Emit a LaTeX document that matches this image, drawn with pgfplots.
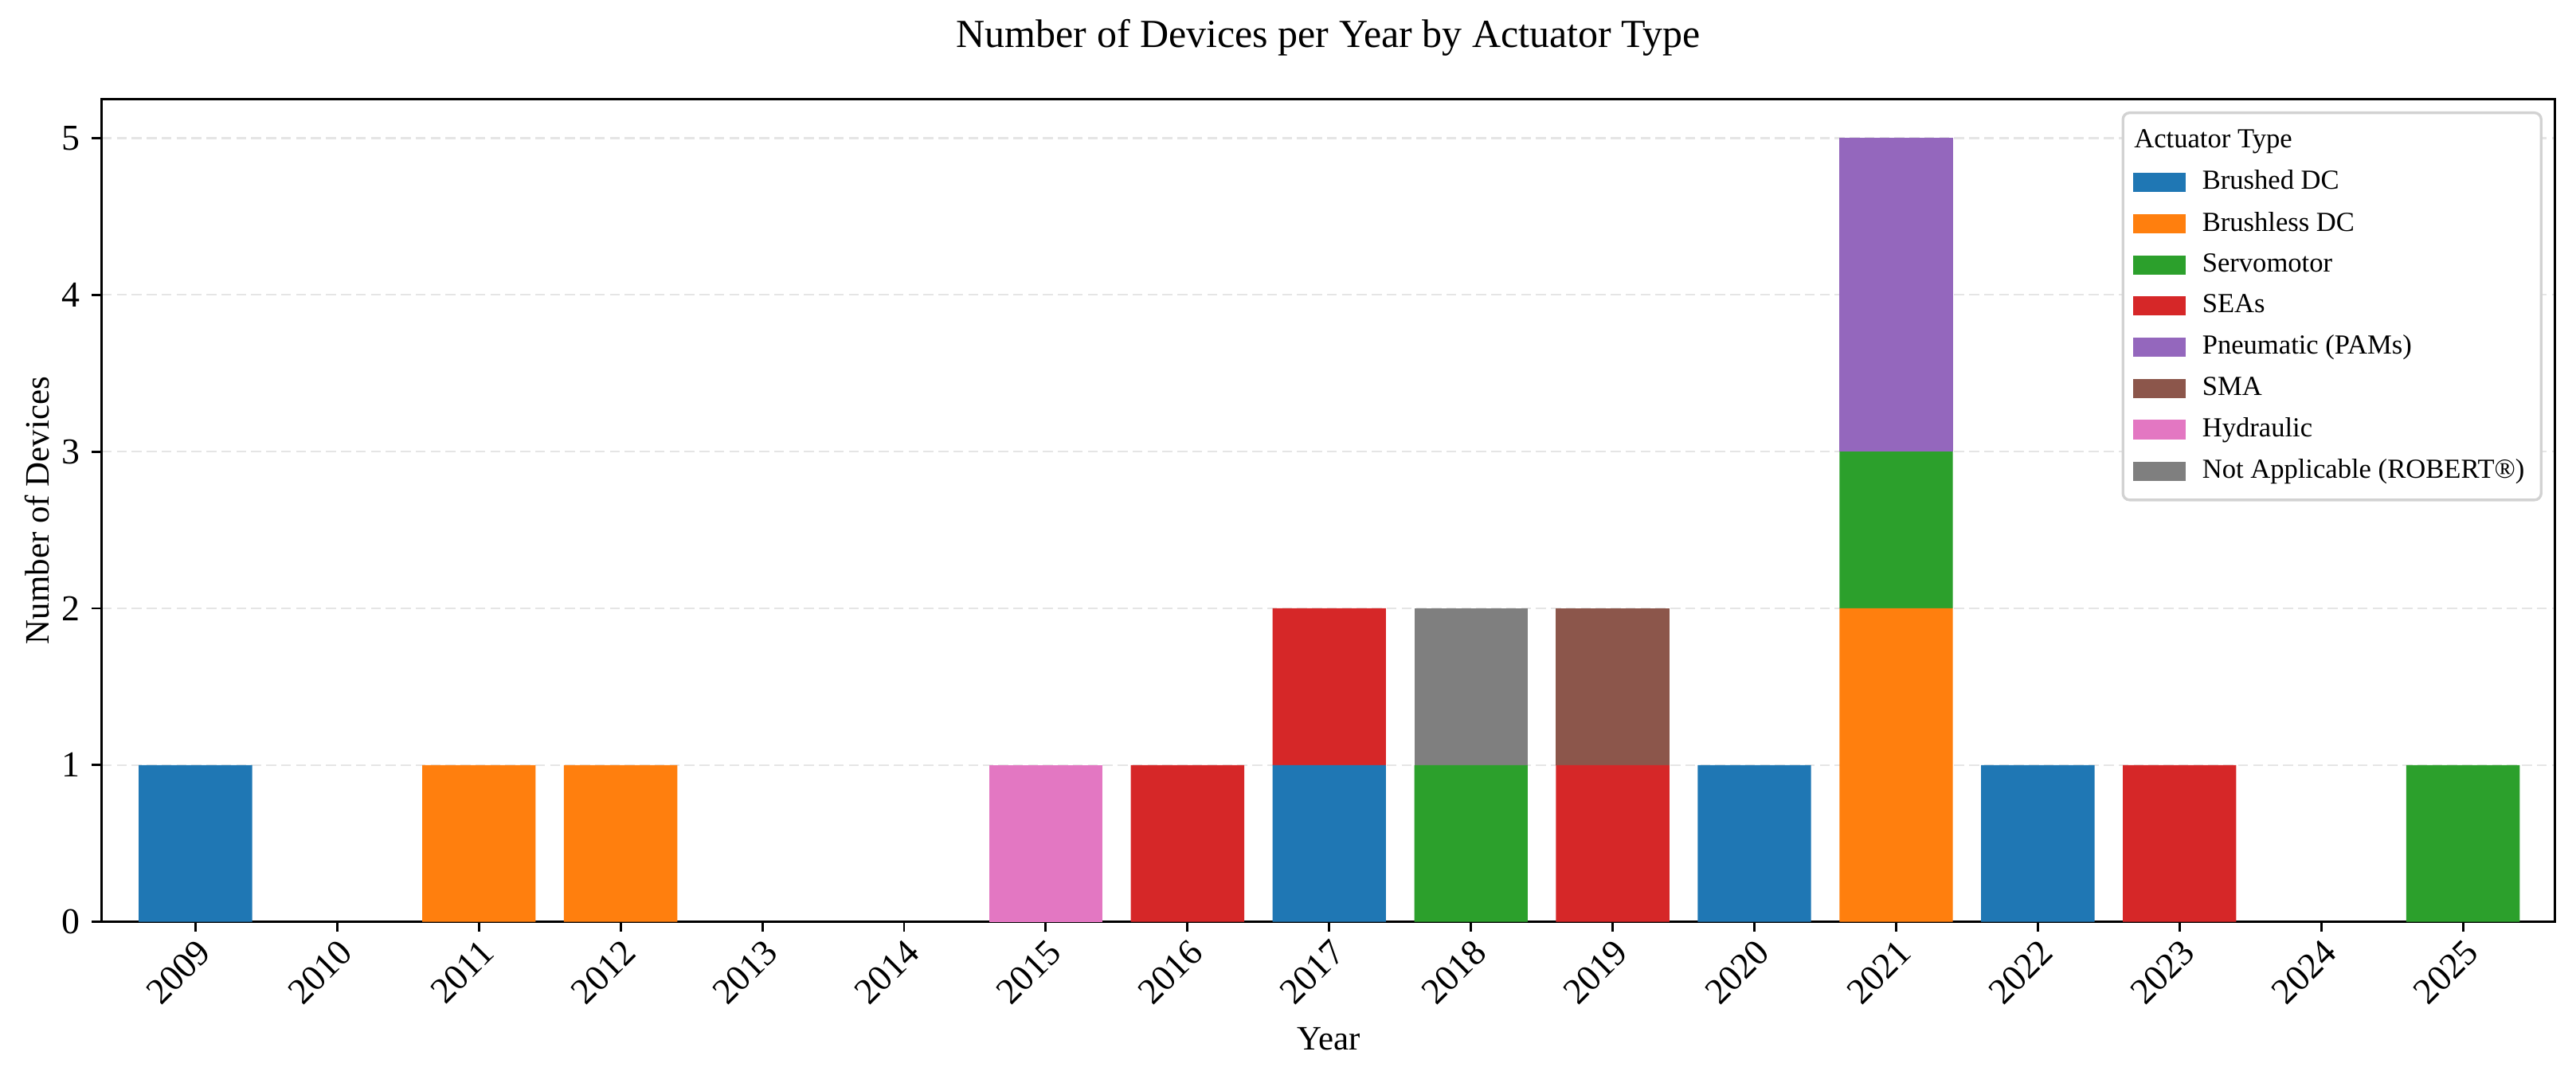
\documentclass[border=0pt]{standalone}
\usepackage{fontspec}
\setmainfont{Liberation Serif}
\usepackage{pgfplots}
\pgfplotsset{compat=1.18}

\definecolor{tabblue}{HTML}{1F77B4}
\definecolor{taborange}{HTML}{FF7F0E}
\definecolor{tabgreen}{HTML}{2CA02C}
\definecolor{tabred}{HTML}{D62728}
\definecolor{tabpurple}{HTML}{9467BD}
\definecolor{tabbrown}{HTML}{8C564B}
\definecolor{tabpink}{HTML}{E377C2}
\definecolor{tabgray}{HTML}{7F7F7F}

\begin{document}
\begin{tikzpicture}
\useasboundingbox (-30.7pt,-44.9pt) rectangle (745.3pt,277.8pt);
\begin{axis}[
    scale only axis,
    width=739pt, height=248pt,
    ybar stacked, bar width=0.8,
    xmin=-0.66, xmax=16.65,
    ymin=0, ymax=5.25,
    xtick={0,...,16},
    xticklabels={2009,2010,2011,2012,2013,2014,2015,2016,2017,2018,2019,2020,2021,2022,2023,2024,2025},
    ytick={0,1,2,3,4,5},
    /pgf/number format/assume math mode=true,
    tick label style={font=\fontsize{11}{13}\selectfont},
    xticklabel style={rotate=45, anchor=north east, inner sep=1pt},
    tick align=outside, tick pos=left,
    major tick length=3pt,
    axis line style={line width=0.7pt},
    every tick/.style={black, line width=0.7pt},
    ymajorgrids,
    grid style={dash pattern=on 3pt off 1.5pt, gray!20, line width=0.6pt},
    title={Number of Devices per Year by Actuator Type},
    title style={font=\fontsize{12}{14}\selectfont, at={(0.5,1)}, anchor=south, yshift=3.5pt},
    xlabel={Year}, ylabel={Number of Devices},
    label style={font=\fontsize{10.3}{12}\selectfont},
    xlabel style={yshift=-1.5pt},
    ylabel style={yshift=-3pt},
    legend image code/.code={\fill[#1, sharp corners] (0pt,-2.9pt) rectangle (15.9pt,2.9pt);},
    legend cell align=left,
    legend style={at={(rel axis cs:1,1)}, anchor=north east, xshift=-3.8pt, yshift=-3.8pt,
        draw=gray!35, line width=0.8pt, rounded corners=2pt,
        font=\fontsize{8.3}{10}\selectfont, row sep=1.3pt, column sep=3pt, inner sep=3pt},
]
\addlegendimage{empty legend}
\addlegendentry{\hspace{-20.5pt}Actuator Type}
\addplot[fill=tabblue, draw=none] coordinates {
 (0,1) (1,0) (2,0) (3,0) (4,0) (5,0) (6,0) (7,0) (8,1) (9,0) (10,0) (11,1) (12,0) (13,1) (14,0) (15,0) (16,0)};
\addlegendentry{Brushed DC}
\addplot[fill=taborange, draw=none] coordinates {
 (0,0) (1,0) (2,1) (3,1) (4,0) (5,0) (6,0) (7,0) (8,0) (9,0) (10,0) (11,0) (12,2) (13,0) (14,0) (15,0) (16,0)};
\addlegendentry{Brushless DC}
\addplot[fill=tabgreen, draw=none] coordinates {
 (0,0) (1,0) (2,0) (3,0) (4,0) (5,0) (6,0) (7,0) (8,0) (9,1) (10,0) (11,0) (12,1) (13,0) (14,0) (15,0) (16,1)};
\addlegendentry{Servomotor}
\addplot[fill=tabred, draw=none] coordinates {
 (0,0) (1,0) (2,0) (3,0) (4,0) (5,0) (6,0) (7,1) (8,1) (9,0) (10,1) (11,0) (12,0) (13,0) (14,1) (15,0) (16,0)};
\addlegendentry{SEAs}
\addplot[fill=tabpurple, draw=none] coordinates {
 (0,0) (1,0) (2,0) (3,0) (4,0) (5,0) (6,0) (7,0) (8,0) (9,0) (10,0) (11,0) (12,2) (13,0) (14,0) (15,0) (16,0)};
\addlegendentry{Pneumatic (PAMs)}
\addplot[fill=tabbrown, draw=none] coordinates {
 (0,0) (1,0) (2,0) (3,0) (4,0) (5,0) (6,0) (7,0) (8,0) (9,0) (10,1) (11,0) (12,0) (13,0) (14,0) (15,0) (16,0)};
\addlegendentry{SMA}
\addplot[fill=tabpink, draw=none] coordinates {
 (0,0) (1,0) (2,0) (3,0) (4,0) (5,0) (6,1) (7,0) (8,0) (9,0) (10,0) (11,0) (12,0) (13,0) (14,0) (15,0) (16,0)};
\addlegendentry{Hydraulic}
\addplot[fill=tabgray, draw=none] coordinates {
 (0,0) (1,0) (2,0) (3,0) (4,0) (5,0) (6,0) (7,0) (8,0) (9,1) (10,0) (11,0) (12,0) (13,0) (14,0) (15,0) (16,0)};
\addlegendentry{Not Applicable (ROBERT®)}
\end{axis}
\end{tikzpicture}
\end{document}
